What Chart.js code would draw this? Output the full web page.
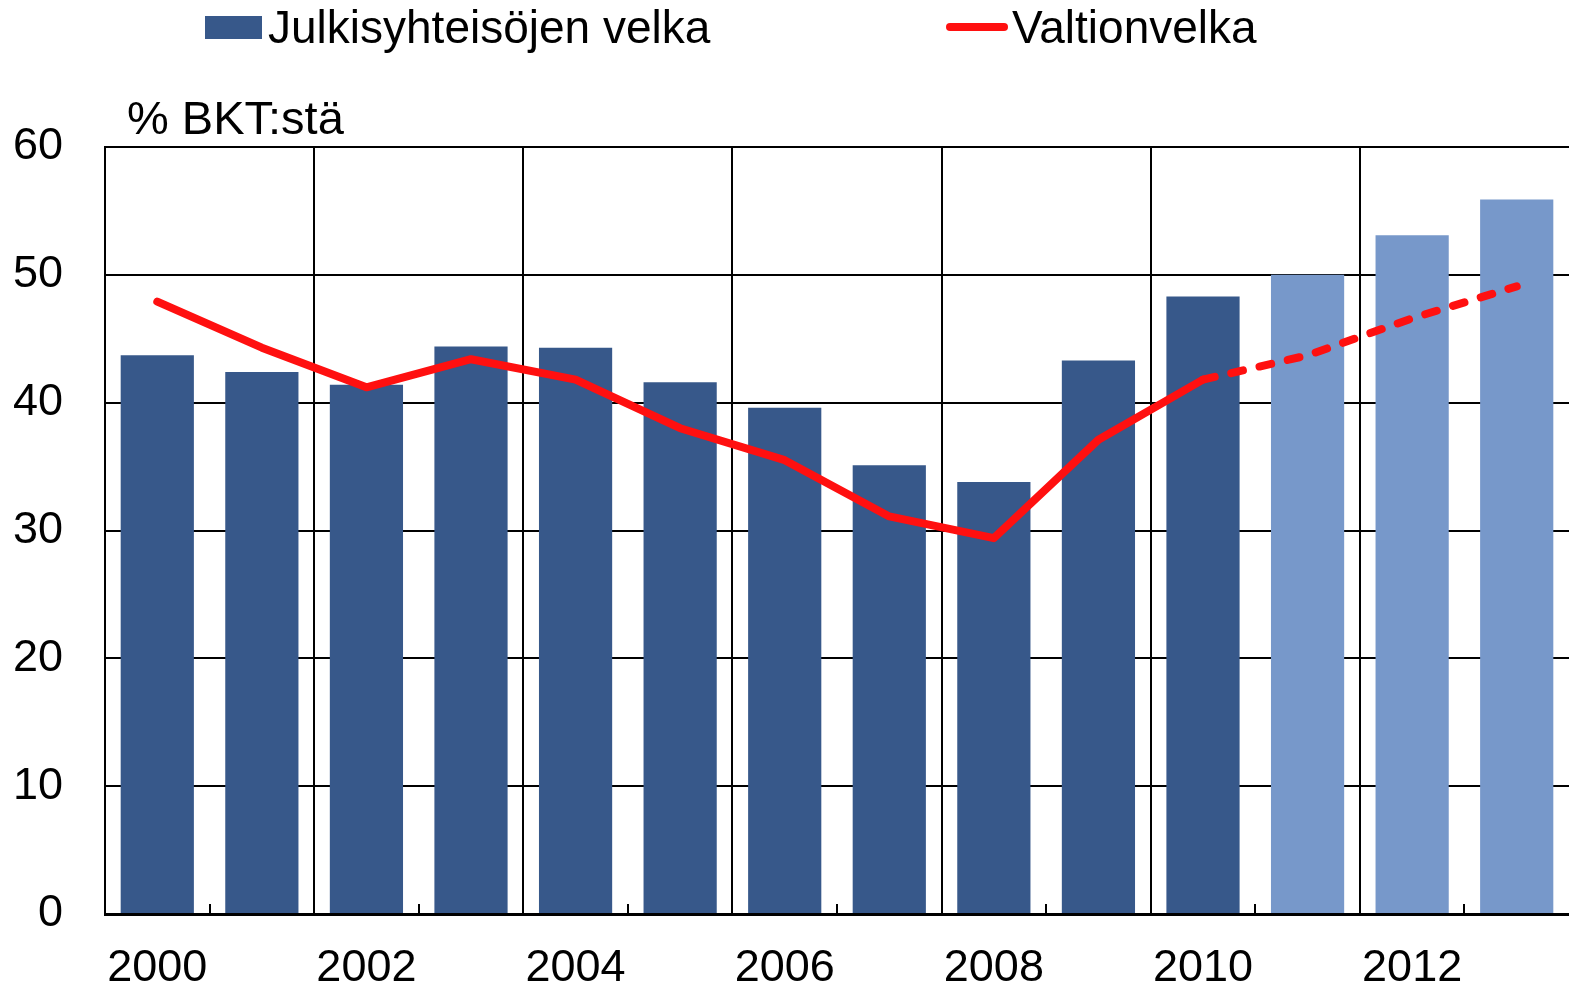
<!DOCTYPE html>
<html>
<head>
<meta charset="utf-8">
<script src="https://cdn.jsdelivr.net/npm/chart.js@4/dist/chart.umd.min.js"></script>
<style>
    html, body {
        margin: 0;
        padding: 0;
        background: #ffffff;
    }
    #wrap {
        position: relative;
        width: 1569px;
        height: 987px;
        overflow: hidden;
        font-family: 'Liberation Sans', Arial, sans-serif;
        color: #000000;
    }
    #chart {
        position: absolute;
        left: 0;
        top: 0;
    }
    .legend-text {
        position: absolute;
        font-size: 46px;
        line-height: 46px;
        white-space: nowrap;
    }
    .legend-box {
        position: absolute;
        left: 205px;
        top: 16px;
        width: 57px;
        height: 23px;
        background: #37588a;
    }
    .legend-line {
        position: absolute;
        left: 946px;
        top: 23px;
        width: 62px;
        height: 8px;
        border-radius: 4px;
        background: #ff1010;
    }
    #unit {
        position: absolute;
        left: 127px;
        top: 94px;
        font-size: 47px;
        line-height: 47px;
        white-space: nowrap;
    }
</style>
</head>
<body>
<div id="wrap">
    <canvas id="chart" width="1569" height="987"></canvas>
    <div class="legend-box"></div>
    <div class="legend-text" style="left: 268px; top: 4px;">Julkisyhteisöjen velka</div>
    <div class="legend-line"></div>
    <div class="legend-text" style="left: 1012px; top: 4px;">Valtionvelka</div>
    <div id="unit">% BKT:stä</div>
</div>
<script>
const years = ['2000', '2001', '2002', '2003', '2004', '2005', '2006',
               '2007', '2008', '2009', '2010', '2011', '2012', '2013'];
const forecastYears = ['2011', '2012', '2013'];

// % of GDP
const publicDebt = [43.7, 42.4, 41.4, 44.4, 44.3, 41.6, 39.6,
                    35.1, 33.8, 43.3, 48.3, 50.0, 53.1, 55.9];
const stateDebt = [47.9, 44.3, 41.2, 43.4, 41.8, 38.0, 35.5,
                   31.1, 29.4, 37.1, 41.8, 43.7, 46.6, 49.1];

const yTicks = [0, 10, 20, 30, 40, 50, 60];

const darkBlue = '#37588a';
const lightBlue = '#7798ca';
const red = '#ff1010';
const FONT = "'Liberation Sans', Arial, sans-serif";

const barColors = years.map(y => forecastYears.includes(y) ? lightBlue : darkBlue);

const ctx = document.getElementById('chart').getContext('2d');

new Chart(ctx, {
    data: {
        labels: years,
        datasets: [
            {
                type: 'line',
                label: 'Valtionvelka',
                data: stateDebt,
                borderColor: red,
                borderWidth: 8,
                borderCapStyle: 'round',
                borderJoinStyle: 'round',
                pointRadius: 0,
                tension: 0,
                order: 0,
                segment: {
                    // forecast part is dashed
                    borderDash: c => forecastYears.includes(years[c.p1DataIndex]) ? [12, 17] : undefined
                }
            },
            {
                type: 'bar',
                label: 'Julkisyhteisöjen velka',
                data: publicDebt,
                backgroundColor: barColors,
                borderWidth: 0,
                categoryPercentage: 1.0,
                barPercentage: 0.7,
                order: 1
            }
        ]
    },
    options: {
        responsive: false,
        animation: false,
        maintainAspectRatio: false,
        layout: {
            padding: { top: 147, right: 0, left: 0, bottom: 0 }
        },
        plugins: {
            legend: { display: false },
            title: { display: false },
            tooltip: { enabled: false }
        },
        scales: {
            x: {
                offset: true,
                afterFit: scale => { scale.height = 73; },
                grid: {
                    offset: true,
                    drawTicks: true,
                    tickLength: -10,
                    lineWidth: 2,
                    tickWidth: 2,
                    color: c => c.index % 2 === 0 ? '#000000' : 'rgba(0,0,0,0)',
                    tickColor: c => c.index % 2 === 1 ? '#000000' : 'rgba(0,0,0,0)'
                },
                border: {
                    display: true,
                    color: '#000000',
                    width: 3
                },
                ticks: {
                    autoSkip: false,
                    maxRotation: 0,
                    padding: 38,
                    color: '#000000',
                    font: { family: FONT, size: 45 },
                    callback: (value, index) => index % 2 === 0 ? years[index] : ''
                }
            },
            y: {
                min: yTicks[0],
                max: yTicks[yTicks.length - 1],
                afterFit: scale => { scale.width = 105; },
                afterBuildTicks: scale => {
                    scale.ticks = yTicks.map(v => ({ value: v }));
                },
                grid: {
                    color: '#000000',
                    lineWidth: 2,
                    drawTicks: false
                },
                border: {
                    display: true,
                    color: '#000000',
                    width: 2
                },
                ticks: {
                    padding: 42,
                    color: '#000000',
                    font: { family: FONT, size: 45 }
                }
            }
        }
    }
});
</script>
</body>
</html>
